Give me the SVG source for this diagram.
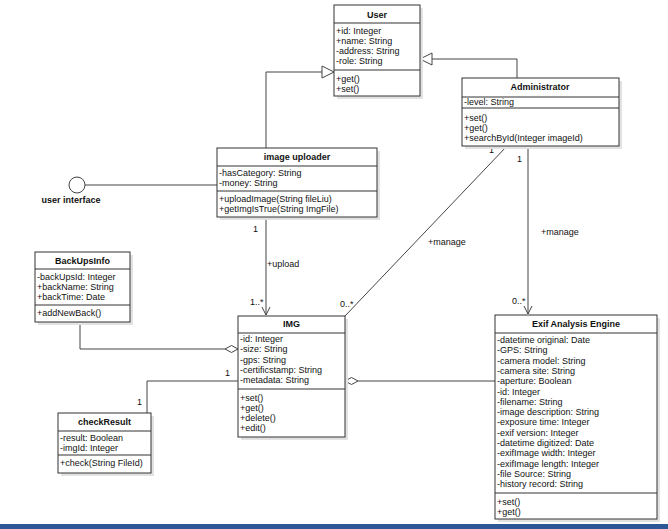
<svg xmlns="http://www.w3.org/2000/svg" width="668" height="529" viewBox="0 0 668 529">
<style>
text{font-family:"Liberation Sans",Arial,sans-serif;font-size:9px;fill:#111}
.t{font-weight:bold;text-anchor:middle}
.box{fill:#fff;stroke:#333;stroke-width:1}
.sh{fill:#e2e2e2}
.ln{stroke:#333;stroke-width:1;fill:none}
.c{fill:none;stroke:#444;stroke-width:1}
.hd{fill:#fff;stroke:#444;stroke-width:1}
</style>
<rect width="668" height="529" fill="#fff"/>
<g id="connectors">
  <polyline class="c" points="266,148 266,72 322,72"/>
  <polygon class="hd" points="322,66 334,72 322,78"/>
  <polyline class="c" points="517,78 517,59 432,59"/>
  <polygon class="hd" points="432,53 420,59 432,65"/>
  <line class="c" x1="85" y1="185" x2="217" y2="185"/>
  <line class="c" x1="266" y1="217" x2="266" y2="315"/>
  <polyline class="c" points="262,307 266,315 270,307"/>
  <line class="c" x1="507" y1="146" x2="345" y2="316"/>
  <line class="c" x1="528" y1="146" x2="528" y2="314"/>
  <polyline class="c" points="524,306 528,314 532,306"/>
  <polyline class="c" points="80,322 80,349 225,349"/>
  <polygon class="hd" points="225,349 231.5,345.5 238,349 231.5,352.5"/>
  <polyline class="c" points="238,381 147,381 147,413"/>
  <line class="c" x1="358" y1="381" x2="495" y2="381"/>
  <polygon class="hd" points="345,381 351.5,377.5 358,381 351.5,384.5"/>
  <text x="253" y="232">1</text>
  <text x="267" y="267">+upload</text>
  <text x="250" y="305">1..*</text>
  <text x="489" y="153">1</text>
  <text x="428" y="245">+manage</text>
  <text x="340" y="307">0..*</text>
  <text x="517" y="162">1</text>
  <text x="541" y="235">+manage</text>
  <text x="512" y="304">0..*</text>
  <text x="225" y="376">1</text>
  <text x="137" y="405">1</text>
</g>
<g id="user-interface">
  <circle cx="77" cy="185" r="8" fill="#fff" stroke="#444"/>
  <text x="71" y="203" class="t">user interface</text>
</g>
<g id="User">
  <rect class="sh" x="337" y="8" width="86" height="91"/>
  <rect class="box" x="334" y="5" width="86" height="91"/>
  <line class="ln" x1="334" y1="23" x2="420" y2="23"/>
  <line class="ln" x1="334" y1="70" x2="420" y2="70"/>
  <text x="377" y="18" class="t">User</text>
  <text x="336" y="34">+id: Integer</text>
  <text x="336" y="44">+name: String</text>
  <text x="336" y="54">-address: String</text>
  <text x="336" y="64">-role: String</text>
  <text x="336" y="82">+get()</text>
  <text x="336" y="92">+set()</text>
</g>
<g id="Administrator">
  <rect class="sh" x="465" y="81" width="157" height="68"/>
  <rect class="box" x="462" y="78" width="157" height="68"/>
  <line class="ln" x1="462" y1="97" x2="619" y2="97"/>
  <line class="ln" x1="462" y1="108" x2="619" y2="108"/>
  <text x="540" y="90" class="t">Administrator</text>
  <text x="464" y="105">-level: String</text>
  <text x="464" y="121">+set()</text>
  <text x="464" y="131">+get()</text>
  <text x="464" y="141">+searchById(Integer imageId)</text>
</g>
<g id="image-uploader">
  <rect class="sh" x="220" y="151" width="160" height="69"/>
  <rect class="box" x="217" y="148" width="160" height="69"/>
  <line class="ln" x1="217" y1="166" x2="377" y2="166"/>
  <line class="ln" x1="217" y1="191" x2="377" y2="191"/>
  <text x="297" y="160" class="t">image uploader</text>
  <text x="219" y="176">-hasCategory: String</text>
  <text x="219" y="186">-money: String</text>
  <text x="219" y="202">+uploadImage(String fileLiu)</text>
  <text x="219" y="212">+getImgIsTrue(String ImgFile)</text>
</g>
<g id="BackUpsInfo">
  <rect class="sh" x="38" y="255" width="95" height="70"/>
  <rect class="box" x="35" y="252" width="95" height="70"/>
  <line class="ln" x1="35" y1="269" x2="130" y2="269"/>
  <line class="ln" x1="35" y1="305" x2="130" y2="305"/>
  <text x="82.5" y="264" class="t">BackUpsInfo</text>
  <text x="37" y="280">-backUpsId: Integer</text>
  <text x="37" y="290">+backName: String</text>
  <text x="37" y="300">+backTime: Date</text>
  <text x="37" y="316">+addNewBack()</text>
</g>
<g id="IMG">
  <rect class="sh" x="241" y="319" width="107" height="121"/>
  <rect class="box" x="238" y="316" width="107" height="121"/>
  <line class="ln" x1="238" y1="333" x2="345" y2="333"/>
  <line class="ln" x1="238" y1="389" x2="345" y2="389"/>
  <text x="291.5" y="327" class="t">IMG</text>
  <text x="240" y="342">-id: Integer</text>
  <text x="240" y="352">-size: String</text>
  <text x="240" y="363">-gps: String</text>
  <text x="240" y="373">-certificstamp: String</text>
  <text x="240" y="383">-metadata: String</text>
  <text x="240" y="401">+set()</text>
  <text x="240" y="411">+get()</text>
  <text x="240" y="421">+delete()</text>
  <text x="240" y="431">+edit()</text>
</g>
<g id="checkResult">
  <rect class="sh" x="61" y="416" width="93" height="60"/>
  <rect class="box" x="58" y="413" width="93" height="60"/>
  <line class="ln" x1="58" y1="431" x2="151" y2="431"/>
  <line class="ln" x1="58" y1="455" x2="151" y2="455"/>
  <text x="104.5" y="425" class="t">checkResult</text>
  <text x="60" y="441">-result: Boolean</text>
  <text x="60" y="451">-imgId: Integer</text>
  <text x="60" y="466">+check(String FileId)</text>
</g>
<g id="Exif-Analysis-Engine">
  <rect class="sh" x="498" y="318" width="162" height="204"/>
  <rect class="box" x="495" y="315" width="162" height="204"/>
  <line class="ln" x1="495" y1="333" x2="657" y2="333"/>
  <line class="ln" x1="495" y1="493" x2="657" y2="493"/>
  <text x="576" y="327" class="t">Exif Analysis Engine</text>
  <text x="497" y="343">-datetime original: Date</text>
  <text x="497" y="353.3">-GPS: String</text>
  <text x="497" y="363.6">-camera model: String</text>
  <text x="497" y="373.9">-camera site: String</text>
  <text x="497" y="384.2">-aperture: Boolean</text>
  <text x="497" y="394.5">-id: Integer</text>
  <text x="497" y="404.8">-filename: String</text>
  <text x="497" y="415.1">-image description: String</text>
  <text x="497" y="425.4">-exposure time: Integer</text>
  <text x="497" y="435.7">-exif version: Integer</text>
  <text x="497" y="446">-datetime digitized: Date</text>
  <text x="497" y="456.3">-exifImage width: Integer</text>
  <text x="497" y="466.6">-exifImage length: Integer</text>
  <text x="497" y="476.9">-file Source: String</text>
  <text x="497" y="487.2">-history record: String</text>
  <text x="497" y="505">+set()</text>
  <text x="497" y="515">+get()</text>
</g>
<rect x="0" y="524" width="668" height="5" fill="#2b5797"/>
</svg>
